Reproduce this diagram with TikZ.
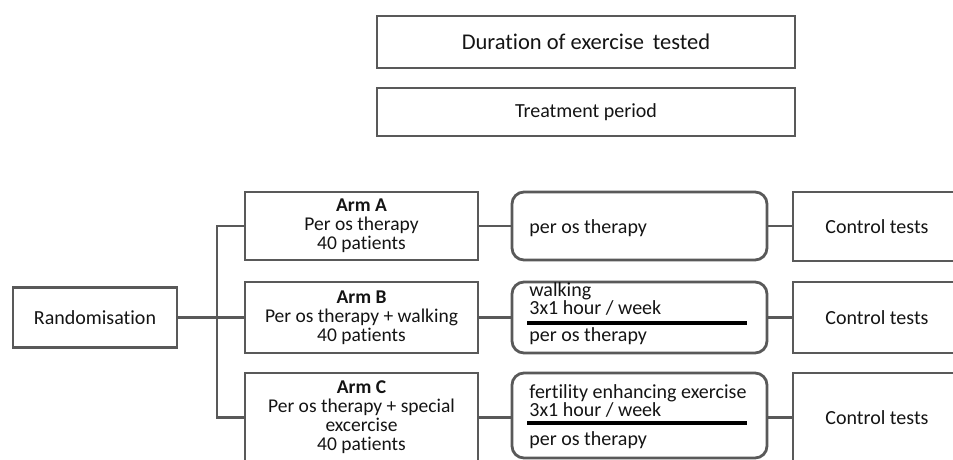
\documentclass[tikz,border=0pt]{standalone}
\usepackage{fontspec}
\setmainfont{Carlito}[Ligatures=NoCommon]
\usepackage{tikz}
\definecolor{FrameGray}{RGB}{89,89,89}
\definecolor{TextGray}{RGB}{20,20,20}

\begin{document}
\begin{tikzpicture}[ x=1pt, y=-1pt,
										line width = 2.8pt,
										every node/.style={text=TextGray, font=\fontsize{19.5}{19}\selectfont},
										box/.style={draw=FrameGray, rectangle, inner sep=0pt},
										armbox/.style={box, minimum width=233pt, align=center},
										roundbox/.style={box, rounded corners=12pt, minimum width=255pt},
										testbox/.style={box, minimum width=168pt},
										line/.style={draw=FrameGray},
										divider/.style={draw=black, line width=3.4pt},
										inner/.style={anchor=base west, inner sep=0pt, font=\fontsize{20}{20}\selectfont},
										stack/.style={anchor=north west, inner sep=0pt, align=left, font=\fontsize{20}{17}\selectfont}]

		\useasboundingbox (0,0) rectangle (953,459);
		\clip (0,0) rectangle (953,459);

		\node [box, minimum width=418pt, minimum height=52pt, font=\fontsize{22.5}{24}\selectfont] (duration) at (586,42) {Duration of exercise\, tested};
		\node [box, minimum width=418pt, minimum height=48pt, font=\fontsize{20}{20}\selectfont] (period) at (586,112) {Treatment period};

		\node [box, minimum width=164pt, minimum height=60pt, font=\fontsize{20}{20}\selectfont] (rand) at (95,317.5) {Randomisation};

		\node [armbox, minimum height=68pt] (armA) at (361.5,226) {\textbf{Arm A}\\Per os therapy\\40 patients};
		\node [armbox, minimum height=71pt] (armB) at (361.5,317.5) {\textbf{Arm B}\\Per os therapy + walking\\40 patients};
		\node [armbox, minimum height=89pt] (armC) at (361.5,417.5) {\textbf{Arm C}\\Per os therapy + special\\excercise\\40 patients};

		\node [roundbox, minimum height=68pt] (rbA) at (639.5,226) {};
		\node [roundbox, minimum height=71pt] (rbB) at (639.5,317.5) {};
		\node [roundbox, minimum height=85pt] (rbC) at (639.5,415.5) {};

		\node [testbox, minimum height=69pt, font=\fontsize{20}{20}\selectfont] (testA) at (877,226.5) {Control tests};
		\node [testbox, minimum height=71pt, font=\fontsize{20}{20}\selectfont] (testB) at (877,317.5) {Control tests};
		\node [testbox, minimum height=89pt, font=\fontsize{20}{20}\selectfont] (testC) at (877,417.5) {Control tests};

		\node [inner] (txtA) at (528,233) {per os therapy};
		\node [stack, font=\fontsize{20}{16}\selectfont] (txtB1) at (528,281) {walking\\3x1 hour / week};
		\node [inner] (txtB2) at (528,341) {per os therapy};
		\node [stack] (txtC1) at (528,383) {fertility enhancing exercise\\3x1 hour / week};
		\node [inner] (txtC2) at (528,445) {per os therapy};

		\draw [divider] (527,323) -- (747,323);
		\draw [divider] (527,423) -- (747,423);

		\coordinate (split) at (217,317.5);
		\draw [line] (rand.east) -- (split) -- (armB.west);
		\draw [line] (armA.west) -| (split) |- (armC.west);

		\draw [line] (armA.east) -- (rbA.west);
		\draw [line] (armB.east) -- (rbB.west);
		\draw [line] (armC.east) -- (armC.east -| rbC.west);

		\draw [line] (rbA.east) -- (rbA.east -| testA.west);
		\draw [line] (rbB.east) -- (testB.west);
		\draw [line] (testC.west -| rbC.east) -- (testC.west);

\end{tikzpicture}
\end{document}
